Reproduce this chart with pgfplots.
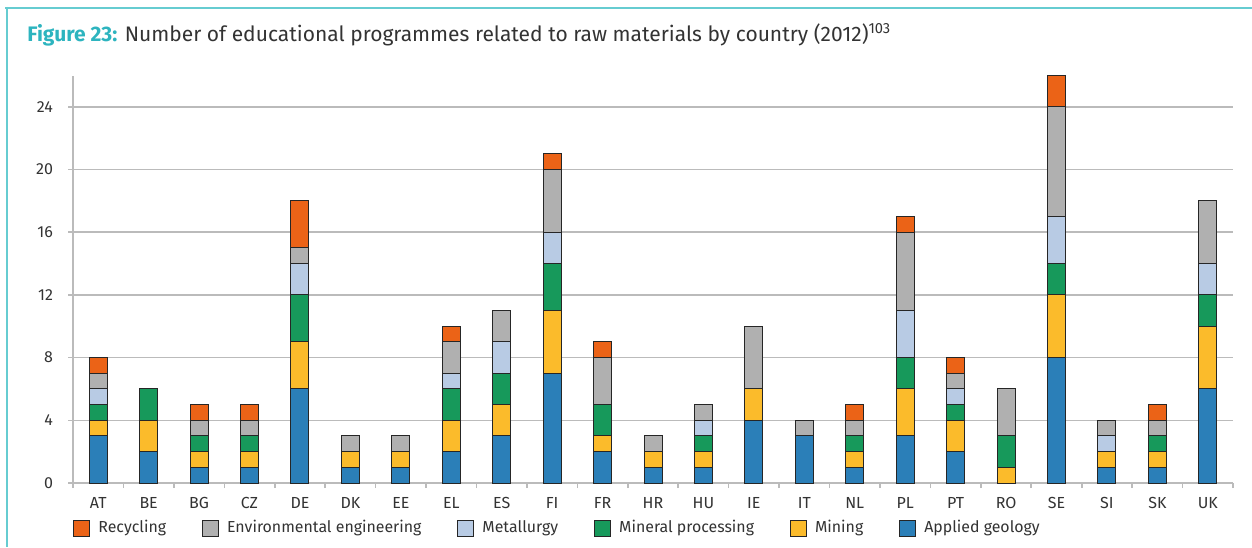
\documentclass[border=0pt]{standalone}
\usepackage{pgfplots}
\pgfplotsset{compat=1.18}
\usepackage{pgfplotstable}
\usepackage{fontspec}
\setmainfont{Fira Sans}
\definecolor{geo}{HTML}{2B7FB8}
\definecolor{mine}{HTML}{FBBB2B}
\definecolor{mpr}{HTML}{17995B}
\definecolor{met}{HTML}{B8CBE4}
\definecolor{env}{HTML}{B0B0B0}
\definecolor{rec}{HTML}{EB6317}
\definecolor{frame}{HTML}{66CCD1}
\definecolor{figteal}{HTML}{2DB4BF}
\definecolor{txt}{HTML}{333333}
\definecolor{axgray}{HTML}{BBBBBB}
\pgfplotstableread{
idx geo min mpr met env rec
0 3 1 1 1 1 1
1 2 2 2 0 0 0
2 1 1 1 0 1 1
3 1 1 1 0 1 1
4 6 3 3 2 1 3
5 1 1 0 0 1 0
6 1 1 0 0 1 0
7 2 2 2 1 2 1
8 3 2 2 2 2 0
9 7 4 3 2 4 1
10 2 1 2 0 3 1
11 1 1 0 0 1 0
12 1 1 1 1 1 0
13 4 2 0 0 4 0
14 3 0 0 0 1 0
15 1 1 1 0 1 1
16 3 3 2 3 5 1
17 2 2 1 1 1 1
18 0 1 2 0 3 0
19 8 4 2 3 7 2
20 1 1 0 1 1 0
21 1 1 1 0 1 1
22 6 4 2 2 4 0
}\data
\begin{document}
\begin{tikzpicture}
\path[use as bounding box] (0pt,0pt) rectangle (626pt,273.5pt);
\draw[frame, line width=1.2pt] (2.5pt,269.5pt) -- (626pt,269.5pt);
\draw[frame, line width=1.2pt] (3.5pt,270.1pt) -- (3.5pt,0pt);
\node[anchor=base west, inner sep=0pt] at (13.5pt,252.6pt) {\fontsize{10.5}{12}\selectfont\textcolor{figteal}{\bfseries Figure 23:} \textcolor{txt}{Number of educational programmes related to raw materials by country (2012)\textsuperscript{103}}};
\begin{axis}[
  at={(36.5pt,32pt)}, anchor=south west,
  scale only axis, width=580pt, height=203.7pt,
  ybar stacked, bar width=9pt,
  xmin=-0.5, xmax=22.5, ymin=0, ymax=26,
  axis x line=bottom, axis y line=left,
  axis line style={axgray, line width=0.8pt, -},
  xtick={0,...,22},
  xticklabels={AT,BE,BG,CZ,DE,DK,EE,EL,ES,FI,FR,HR,HU,IE,IT,NL,PL,PT,RO,SE,SI,SK,UK},
  major x tick style={draw=none},
  minor xtick={-0.5,0.5,...,22.5},
  minor x tick style={axgray, line width=0.8pt},
  minor tick length=2.5pt,
  ytick={0,4,...,24},
  major tick length=2.5pt,
  tick align=outside,
  y tick style={axgray, line width=0.8pt},
  ymajorgrids, grid style={axgray, line width=0.8pt},
  tick label style={font=\fontsize{8}{9.6}\selectfont, text=txt},
  /pgf/number format/assume math mode=true,
  xticklabel style={yshift=-1pt},
  yticklabel style={xshift=-4pt},
  legend style={at={(0,0)}, anchor=west, yshift=-22.5pt, draw=none, fill=none, inner sep=0pt,
    font=\fontsize{7.95}{9.6}\selectfont, text=txt,
    /tikz/every odd column/.append style={column sep=4pt},
    /tikz/every even column/.append style={column sep=18pt},
    nodes={inner sep=0pt}},
  legend columns=6,
  reverse legend,
  legend image code/.code={\fill[#1] (0pt,-4pt) rectangle (8pt,4pt);},
  every axis plot/.append style={draw=black!85, line width=0.5pt},
]
\addplot[fill=geo] table[x=idx,y=geo]{\data};
\addplot[fill=mine] table[x=idx,y=min]{\data};
\addplot[fill=mpr] table[x=idx,y=mpr]{\data};
\addplot[fill=met] table[x=idx,y=met]{\data};
\addplot[fill=env] table[x=idx,y=env]{\data};
\addplot[fill=rec] table[x=idx,y=rec]{\data};
\legend{Applied geology,Mining,Mineral processing,Metallurgy,Environmental engineering,Recycling}
\end{axis}
\end{tikzpicture}
\end{document}
